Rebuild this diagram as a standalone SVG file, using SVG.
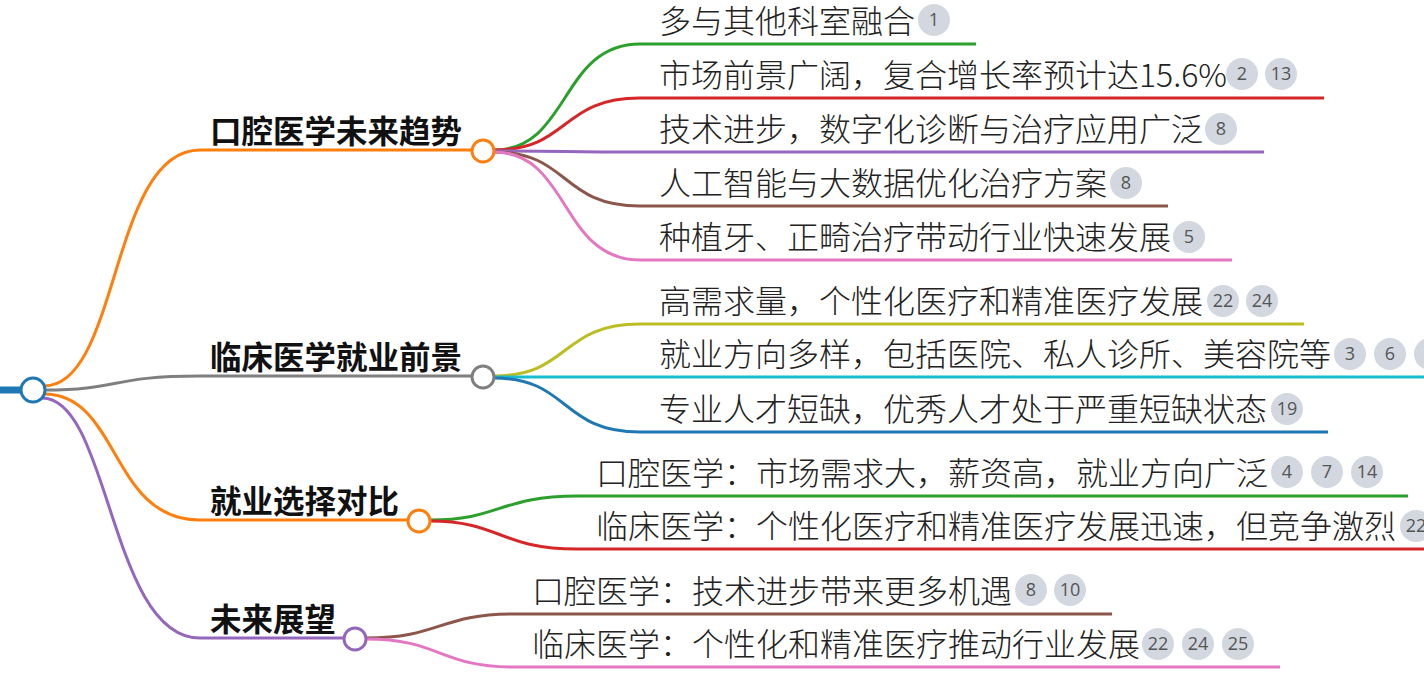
<svg xmlns="http://www.w3.org/2000/svg" width="1424" height="685" viewBox="0 0 1424 685">
<style>
.t{font-family:"Noto Sans CJK SC","Noto Sans",sans-serif;font-size:32px;font-weight:300;fill:#222}
.b{font-family:"Noto Sans CJK SC","Noto Sans",sans-serif;font-size:31.5px;font-weight:bold;fill:#111}
.c{fill:none;stroke-width:3}
.bg{fill:#d3d7e0}
.n{font-family:"Open Sans","Noto Sans",sans-serif;font-size:18px;fill:#555;text-anchor:middle}
.k{fill:#fff;stroke-width:3}
</style>
<rect width="1424" height="685" fill="#fff"/>
<g id="connectors">
<line x1="0" y1="390" x2="22" y2="390" stroke="#1f77b4" stroke-width="7"/>
<path class="c" stroke="#ff7f0e" d="M44,386 C120,386 110,150 200,150 L472,150"/>
<path class="c" stroke="#7f7f7f" d="M45,390 C120,390 110,376 200,376 L472,376"/>
<path class="c" stroke="#ff7f0e" d="M44,394 C120,394 110,520 200,520 L408,520"/>
<path class="c" stroke="#9467bd" d="M42,398 C110,398 110,638 200,638 L344,638"/>
<path class="c" stroke="#2ca02c" d="M494,150 C570,150 560,44 640,44 L976,44"/>
<path class="c" stroke="#d62728" d="M494,150 C570,150 560,98 640,98 L1324,98"/>
<path class="c" stroke="#9467bd" d="M494,151 C570,151 560,152 640,152 L1264,152"/>
<path class="c" stroke="#8c564b" d="M494,152 C570,152 560,206 640,206 L1168,206"/>
<path class="c" stroke="#e377c2" d="M494,152 C570,152 560,260 640,260 L1232,260"/>
<path class="c" stroke="#bcbd22" d="M494,376 C570,376 560,324 640,324 L1304,324"/>
<path class="c" stroke="#17becf" d="M494,377 C570,377 560,377 640,377 L1424,377"/>
<path class="c" stroke="#1f77b4" d="M494,378 C570,378 560,432 640,432 L1328,432"/>
<path class="c" stroke="#2ca02c" d="M430,520 C500,520 500,496 577,496 L1408,496"/>
<path class="c" stroke="#d62728" d="M430,521 C500,521 500,549 577,549 L1424,549"/>
<path class="c" stroke="#8c564b" d="M366,638 C440,638 440,614 513,614 L1112,614"/>
<path class="c" stroke="#e377c2" d="M366,639 C440,639 440,667 513,667 L1280,667"/>
</g>
<g id="root"><circle class="k" stroke="#1f77b4" cx="33" cy="390" r="12"/></g>
<g id="b1"><text class="b" x="210" y="143">口腔医学未来趋势</text><circle class="k" stroke="#ff7f0e" cx="483" cy="151" r="11"/></g>
<g id="b2"><text class="b" x="210" y="369">临床医学就业前景</text><circle class="k" stroke="#7f7f7f" cx="483" cy="377" r="11"/></g>
<g id="b3"><text class="b" x="210" y="513">就业选择对比</text><circle class="k" stroke="#ff7f0e" cx="419" cy="521" r="11"/></g>
<g id="b4"><text class="b" x="210" y="631">未来展望</text><circle class="k" stroke="#9467bd" cx="355" cy="639" r="11"/></g>
<g id="l1"><text class="t" x="659" y="33">多与其他科室融合</text><circle class="bg" cx="934" cy="20" r="16"/><text class="n" x="934" y="26">1</text></g>
<g id="l2"><text class="t" x="659" y="87">市场前景广阔，复合增长率预计达15.6%</text><circle class="bg" cx="1242" cy="74" r="16"/><text class="n" x="1242" y="80">2</text><circle class="bg" cx="1281" cy="74" r="16"/><text class="n" x="1281" y="80">13</text></g>
<g id="l3"><text class="t" x="659" y="141">技术进步，数字化诊断与治疗应用广泛</text><circle class="bg" cx="1221" cy="129" r="16"/><text class="n" x="1221" y="135">8</text></g>
<g id="l4"><text class="t" x="659" y="195">人工智能与大数据优化治疗方案</text><circle class="bg" cx="1126" cy="183" r="16"/><text class="n" x="1126" y="189">8</text></g>
<g id="l5"><text class="t" x="659" y="249">种植牙、正畸治疗带动行业快速发展</text><circle class="bg" cx="1189" cy="237" r="16"/><text class="n" x="1189" y="243">5</text></g>
<g id="l6"><text class="t" x="659" y="313">高需求量，个性化医疗和精准医疗发展</text><circle class="bg" cx="1223" cy="301" r="16"/><text class="n" x="1223" y="307">22</text><circle class="bg" cx="1262" cy="301" r="16"/><text class="n" x="1262" y="307">24</text></g>
<g id="l7"><text class="t" x="659" y="366">就业方向多样，包括医院、私人诊所、美容院等</text><circle class="bg" cx="1350" cy="354" r="16"/><text class="n" x="1350" y="360">3</text><circle class="bg" cx="1390" cy="354" r="16"/><text class="n" x="1390" y="360">6</text><circle class="bg" cx="1430" cy="354" r="16"/></g>
<g id="l8"><text class="t" x="659" y="421">专业人才短缺，优秀人才处于严重短缺状态</text><circle class="bg" cx="1287" cy="409" r="16"/><text class="n" x="1287" y="415">19</text></g>
<g id="l9"><text class="t" x="596" y="485">口腔医学：市场需求大，薪资高，就业方向广泛</text><circle class="bg" cx="1287" cy="472" r="16"/><text class="n" x="1287" y="478">4</text><circle class="bg" cx="1327" cy="472" r="16"/><text class="n" x="1327" y="478">7</text><circle class="bg" cx="1367" cy="472" r="16"/><text class="n" x="1367" y="478">14</text></g>
<g id="l10"><text class="t" x="596" y="538">临床医学：个性化医疗和精准医疗发展迅速，但竞争激烈</text><circle class="bg" cx="1416" cy="526" r="16"/><text class="n" x="1416" y="532">22</text></g>
<g id="l11"><text class="t" x="532" y="603">口腔医学：技术进步带来更多机遇</text><circle class="bg" cx="1031" cy="590" r="16"/><text class="n" x="1031" y="596">8</text><circle class="bg" cx="1070" cy="590" r="16"/><text class="n" x="1070" y="596">10</text></g>
<g id="l12"><text class="t" x="532" y="656">临床医学：个性化和精准医疗推动行业发展</text><circle class="bg" cx="1158" cy="644" r="16"/><text class="n" x="1158" y="650">22</text><circle class="bg" cx="1198" cy="644" r="16"/><text class="n" x="1198" y="650">24</text><circle class="bg" cx="1238" cy="644" r="16"/><text class="n" x="1238" y="650">25</text></g>
</svg>
